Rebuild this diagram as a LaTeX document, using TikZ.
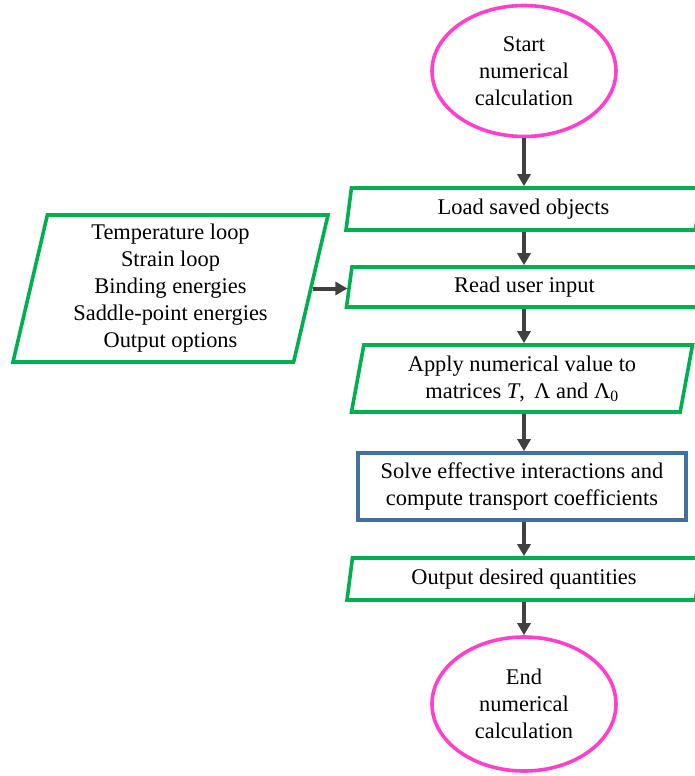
\documentclass[tikz,border=0pt]{standalone}
\usepackage{fontspec}
\setmainfont{Liberation Serif}
\usetikzlibrary{shapes.geometric,arrows.meta}
\definecolor{fgreen}{HTML}{00B050}
\definecolor{fpink}{HTML}{FF40CC}
\definecolor{fblue}{HTML}{41719C}
\definecolor{farrow}{HTML}{404040}
\tikzset{
  txt/.style={font=\fontsize{22.4}{27}\selectfont, align=center, inner sep=0pt},
  terminal/.style={txt, ellipse, draw=fpink, line width=3.6pt, minimum width=184pt, minimum height=131pt},
  iobox/.style={txt, trapezium, trapezium left angle=75, trapezium right angle=105,
     trapezium stretches body, draw=fgreen, line width=3.6pt},
  procbox/.style={txt, rectangle, draw=fblue, line width=3.6pt, minimum width=328pt, minimum height=67pt},
  arr/.style={draw=farrow, line width=4pt, -{Triangle[length=12pt,width=13pt]}}
}
\begin{document}
\begin{tikzpicture}[x=1pt,y=-1pt]
\useasboundingbox (0,0) rectangle (694,776);
\node[terminal] (start) at (524,71) {Start\\numerical\\calculation};
\node[iobox, minimum width=355pt, minimum height=42pt] (load) at (523.5,209) {Load saved objects};
\node[iobox, minimum width=356pt, minimum height=40pt] (read) at (524.5,287) {Read user input};
\node[iobox, minimum width=341pt, minimum height=67pt] (apply) at (522,378.5) {Apply numerical value to\\matrices \textit{T},\, Λ and Λ\textsubscript{0}};
\node[procbox] (solve) at (522,486.5) {Solve effective interactions and\\compute transport coefficients};
\node[iobox, minimum width=354pt, minimum height=42pt] (output) at (524,579) {Output desired quantities};
\node[terminal, minimum height=134pt] (end) at (524,704) {End\\numerical\\calculation};
\node[iobox, minimum width=315pt, minimum height=147pt] (inputs) at (170.5,288.5) {Temperature loop\\Strain loop\\Binding energies\\Saddle-point energies\\Output options};
\draw[arr] (start.south) -- (load.north -| start);
\draw[arr] (load.south -| start) -- (read.north -| start);
\draw[arr] (read.south -| start) -- (apply.north -| start);
\draw[arr] (apply.south -| start) -- (solve.north -| start);
\draw[arr] (solve.south -| start) -- (output.north -| start);
\draw[arr] (output.south -| start) -- (end.north);
\draw[arr] (inputs.east) -- (inputs.east -| read.west);
\end{tikzpicture}
\end{document}
